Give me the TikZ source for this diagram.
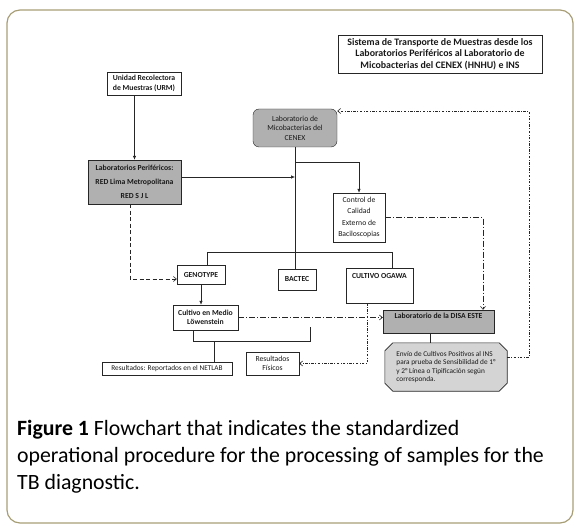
\documentclass[tikz,border=0pt]{standalone}
\usepackage{fontspec}
\setmainfont{Carlito}
\usepackage{tikz}
\usetikzlibrary{arrows.meta,positioning,calc,backgrounds}
\usepackage{xcolor}
\definecolor{framecol}{RGB}{168,158,118}
\definecolor{boxgray}{RGB}{176,176,176}
\definecolor{envgray}{RGB}{212,212,212}
\tikzset{
  tbbox/.style={draw=black!85, rectangle, inner sep=2pt, align=center, text=black!90, font=\fontsize{7.7}{9.5}\selectfont},
  tbbold/.style={tbbox, font=\fontsize{7.7}{9.5}\selectfont\bfseries},
  tbgray/.style={tbbold, fill=boxgray},
  tbtitle/.style={tbbox, font=\fontsize{9.9}{11.5}\selectfont\bfseries},
  tbenvio/.style={inner sep=2pt, align=left, text=black!90, font=\fontsize{7.3}{8.4}\selectfont},
  tbarrow/.style={-{Latex[length=4pt,width=3.5pt]}, line width=0.6pt, draw=black!85},
  tbline/.style={line width=0.6pt, draw=black!85},
  tbdashdot/.style={-{Straight Barb[length=3pt,width=5pt]}, line width=0.6pt, draw=black!85, dash pattern=on 6pt off 2pt on 1pt off 2pt},
  tbdotted/.style={-{Straight Barb[length=3pt,width=5pt]}, line width=0.6pt, draw=black!85, dash pattern=on 2.5pt off 1.5pt on 0.8pt off 1.5pt},
  tbdashed/.style={-{Straight Barb[length=3pt,width=5pt]}, line width=0.6pt, draw=black!85, dash pattern=on 4pt off 2.5pt},
}
\begin{document}
\begin{tikzpicture}[x=1pt,y=-1pt]
  \useasboundingbox (0,0) rectangle (581,529);
  \draw[framecol, line width=1.2pt, rounded corners=13pt] (7,10) rectangle (573,523);

  \node[tbtitle, minimum width=204, minimum height=38] (title) at (440,54)
    {Sistema de Transporte de Muestras desde los\\Laboratorios Periféricos al Laboratorio de\\Micobacterias del CENEX (HNHU) e INS};

  \node[tbbold, minimum width=74, minimum height=23] (urm) at (144,83.5)
    {Unidad Recolectora\\[0.5pt]de Muestras (URM)};
  \node[tbgray, minimum width=93, minimum height=44] (perif) at (134.5,182)
    {Laboratorios Periféricos:\\[4.5pt]RED Lima Metropolitana\\[4.5pt]RED S J L};
  \node[tbbox, fill=boxgray, rounded corners=6pt, minimum width=84, minimum height=38] (cenex) at (295,128)
    {Laboratorio de\\Micobacterias del\\CENEX};
  \node[tbbox, minimum width=52, minimum height=49] (control) at (359,217.5)
    {Control de\\[2pt]Calidad\\[2pt]Externo de\\[2pt]Baciloscopias};

  \draw[tbarrow] (urm.south -| perif.north) -- (perif.north);
  \draw[tbline] (cenex.south) -- ($(cenex.south)+(0,122)$);
  \coordinate (perifout) at ($(perif.east)+(0,-5)$);
  \draw[tbarrow] (perifout) -- (perifout -| cenex.south);
  \coordinate (cenexsplit) at ($(cenex.south)+(0,15)$);
  \draw[tbarrow] (cenexsplit) -| (control.north);

  \node[tbbold, minimum width=48, minimum height=19] (genotype) at (201,275) {GENOTYPE};
  \node[tbbold, minimum width=38, minimum height=21] (bactec) at (297,279.5) {BACTEC};
  \node[tbbold, minimum width=67, text height=9pt, text depth=22pt] (ogawa) at (379.5,285.5) {CULTIVO OGAWA};

  \coordinate (labsplit) at ($(cenex.south)+(0,105)$);
  \draw[tbline] ($(genotype.north)+(6,0)$) |- (labsplit) -| ($(ogawa.north)+(12.5,0)$);
  \draw[tbdashed] ($(perif.south)+(-4.5,0)$) |- ($(genotype.west)+(0,4)$);

  \node[tbbold, minimum width=65, minimum height=25] (cultivo) at (205.5,317.5)
    {Cultivo en Medio\\Löwenstein};
  \node[tbbox, font=\fontsize{7.3}{9}\selectfont, minimum width=130, minimum height=13] (netlab) at (167,368.5)
    {Resultados: Reportados en el NETLAB};
  \node[tbbox, minimum width=53, minimum height=23] (fisicos) at (272.5,363.5)
    {Resultados\\Físicos};
  \node[tbgray, minimum width=111, text height=7pt, text depth=12pt] (disa) at (438.5,321.5)
    {Laboratorio de la DISA ESTE};
  \node[tbenvio, minimum width=122, minimum height=48] (envio) at (446,367)
    {Envío de Cultivos Positivos al INS\\para prueba de Sensibilidad de 1°\\y 2° Línea o Tipificación según\\corresponda.};
  \begin{scope}[on background layer]
    \draw[tbline, fill=envgray]
      ($(envio.north west)+(8,0)$) -- ($(envio.north east)+(-8,0)$) -- ($(envio.north east)+(0,8)$)
      -- ($(envio.south east)+(0,-8)$) -- ($(envio.south east)+(-8,0)$) -- ($(envio.south west)+(8,0)$)
      -- ($(envio.south west)+(0,-8)$) -- ($(envio.north west)+(0,8)$) -- cycle;
  \end{scope}

  \draw[tbarrow] (genotype.south) -- (genotype.south |- cultivo.north);
  \draw[tbline] ($(cultivo.south)+(-12.5,0)$) |- ($(cultivo.south)+(104.5,11)$) -- ++(0,-14);
  \coordinate (cultivojoin) at ($(cultivo.south)+(9,11)$);
  \draw[tbline] (cultivojoin) -- (cultivojoin |- netlab.north);
  \draw[tbdashdot] (cultivo.east) -- (cultivo.east -| disa.west);
  \draw[tbdotted] ($(ogawa.south)+(-12.5,0)$) |- (fisicos.east);
  \draw[tbdashdot] (control.east) -| ($(disa.north)+(44.5,0)$);
  \draw[tbline] ($(disa.south)+(-8.5,0)$) -- ($(envio.north)+(-16,0)$);
  \coordinate (returncorner) at (529,111);
  \draw[tbdotted] ($(envio.east)+(0,-10)$) -| (returncorner) -- (returncorner -| cenex.east);

  \node[anchor=north west, inner sep=0pt, align=left, font=\fontsize{21.8}{27}\selectfont] (caption) at (17,420)
    {\textbf{Figure 1} Flowchart that indicates the standardized\\operational procedure for the processing of samples for the\\TB diagnostic.};
\end{tikzpicture}
\end{document}
